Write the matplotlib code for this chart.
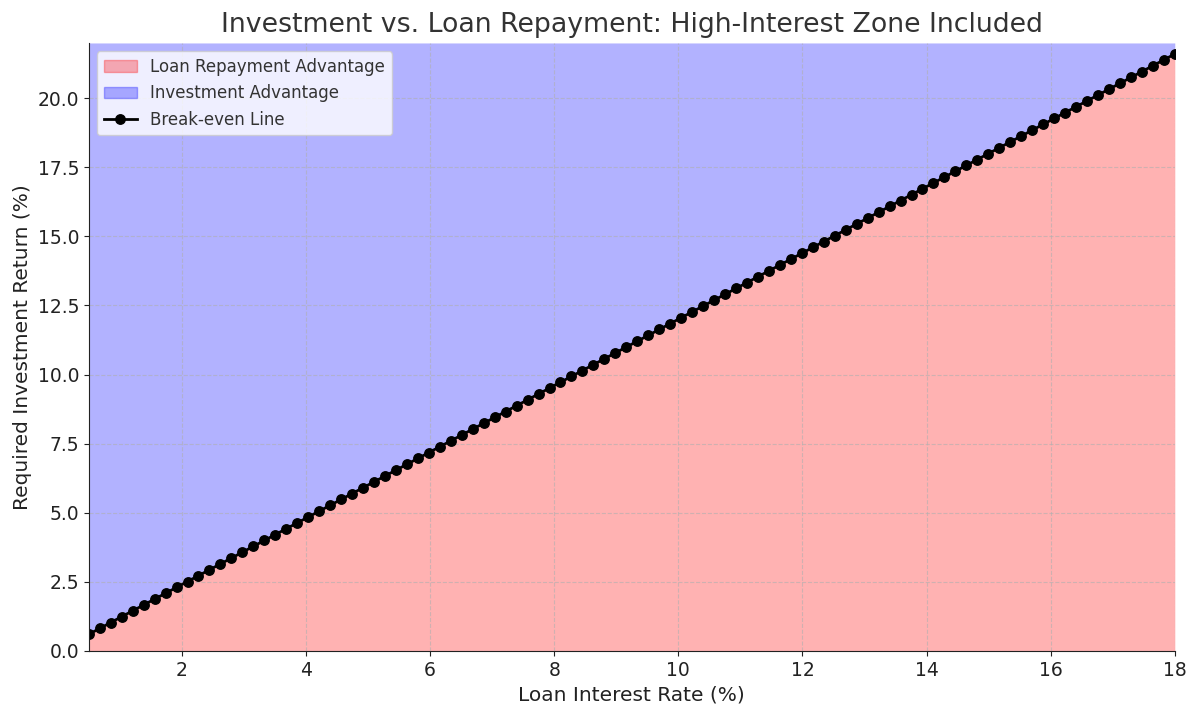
import numpy as np
import matplotlib
matplotlib.use("Agg")
import matplotlib.pyplot as plt
from matplotlib.patches import Patch

# Data
loan_rates = np.linspace(0.5, 18, 100)          # Loan interest rate (%)
breakeven_factor = 1.2                            # required return multiplier
required_returns = loan_rates * breakeven_factor  # Break-even investment return (%)
y_top = 22.0

title = "Investment vs. Loan Repayment: High-Interest Zone Included"
xlabel = "Loan Interest Rate (%)"
ylabel = "Required Investment Return (%)"
labels = ["Loan Repayment Advantage", "Investment Advantage", "Break-even Line"]

fig = plt.figure(figsize=(12, 7.16), dpi=100)
ax = fig.add_axes([0.074, 0.091, 0.905, 0.849])

ax.fill_between(loan_rates, 0, required_returns, color="red", alpha=0.3, linewidth=0)
ax.fill_between(loan_rates, required_returns, y_top, color="blue", alpha=0.3, linewidth=0)
line, = ax.plot(loan_rates, required_returns, color="black", marker="o", markersize=6.8,
                linewidth=2, label=labels[2])

ax.set_xlim(0.5, 18)
ax.set_ylim(0, y_top)
ax.set_xticks([2, 4, 6, 8, 10, 12, 14, 16, 18])
ax.set_yticks(np.arange(0, 21, 2.5))
ax.grid(True, linestyle="--", color="#b0b0b0", alpha=0.6, linewidth=0.8)

for s in ["top", "right"]:
    ax.spines[s].set_visible(False)
ax.spines["left"].set_color("#222222")
ax.spines["bottom"].set_color("#222222")
ax.tick_params(labelsize=13.5, colors="#222222")

ax.set_title(title, fontsize=19.3, color="#333333", pad=8)
ax.set_xlabel(xlabel, fontsize=14.5, color="#222222")
ax.set_ylabel(ylabel, fontsize=14.5, color="#222222")

handles = [Patch(facecolor="red", edgecolor="red", alpha=0.3, label=labels[0]),
           Patch(facecolor="blue", edgecolor="blue", alpha=0.3, label=labels[1]),
           line]
leg = ax.legend(handles=handles, loc="upper left", fontsize=12, framealpha=0.8, fancybox=True)
for t in leg.get_texts():
    t.set_color("#333333")

fig.savefig("out.png", dpi=100)
